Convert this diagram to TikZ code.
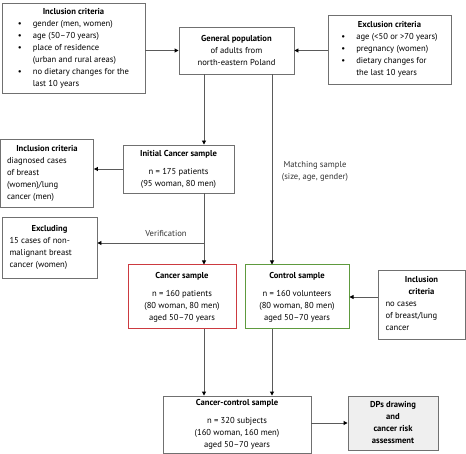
\documentclass[tikz,border=0pt]{standalone}
\usepackage{fontspec}
\setmainfont{PT Sans}
\usetikzlibrary{arrows.meta,positioning}
\definecolor{framegray}{HTML}{707070}
\definecolor{wiregray}{HTML}{5A5A5A}
\definecolor{casered}{HTML}{CC3A40}
\definecolor{ctrlgreen}{HTML}{5E9A3E}
\definecolor{outfill}{HTML}{EFEFEF}

\begin{document}
\begin{tikzpicture}[x=1pt,y=-1pt,
        font=\fontsize{8.6}{12}\selectfont,
        box/.style 2 args={draw=framegray,line width=0.9pt,fill=white,inner sep=0pt,
          align=center,minimum width=#1,minimum height=#2},
        redbox/.style 2 args={box={#1}{#2},draw=casered,line width=1pt},
        greenbox/.style 2 args={box={#1}{#2},draw=ctrlgreen,line width=1pt},
        outbox/.style 2 args={box={#1}{#2},fill=outfill,font=\fontsize{8.6}{12}\selectfont\bfseries},
        lbl/.style={inner sep=1pt,align=center,text=black!80},
        arr/.style={-{Triangle[length=4pt,width=4pt,color=black]},wiregray,line width=0.9pt}]
        \useasboundingbox (0,0) rectangle (466,454);
        % criteria and population
        \node[box={143pt}{90pt}](inc1) at (73.5,48){\begin{tabular}{@{}l@{\hspace{11pt}}l@{}}
          \multicolumn{2}{c}{\bfseries Inclusion criteria}\\
          \textbullet & gender (men, women)\\
          \textbullet & age (50--70 years)\\
          \textbullet & place of residence\\
          & (urban and rural areas)\\
          \textbullet & no dietary changes for the\\
          & last 10 years\end{tabular}};
        \node[box={115pt}{47pt}](gp) at (236.5,50.5){{\bfseries General population}\\of adults from\\north-eastern Poland};
        \node[box={123pt}{69pt}](exc) at (389.5,49.5){\begin{tabular}{@{}l@{\hspace{11pt}}l@{}}
          \multicolumn{2}{c}{\bfseries Exclusion criteria}\\
          \textbullet & age (<50 or >70 years)\\
          \textbullet & pregnancy (women)\\
          \textbullet & dietary changes for\\
          & the last 10 years\end{tabular}};
        % cancer branch
        \node[box={111pt}{48pt}](init) at (178.5,169){{\bfseries Initial Cancer sample}\\[6pt]n = 175 patients\\(95 woman, 80 men)};
        \node[box={93pt}{68pt}](inc2) at (47,173){\begin{tabular}{@{}p{80pt}@{}}
          \multicolumn{1}{@{}c@{}}{\bfseries Inclusion criteria}\\
          diagnosed cases\\ of breast\\ (women)/lung\\ cancer (men)\end{tabular}};
        \node[box={95pt}{61pt}](excl) at (49.5,247.5){\begin{tabular}{@{}p{80pt}@{}}
          \multicolumn{1}{@{}c@{}}{\bfseries Excluding}\\
          15 cases of non-\\ malignant breast\\ cancer (women)\end{tabular}};
        \node[redbox={108pt}{64pt}](cancer) at (182,297){{\bfseries Cancer sample}\\[6pt]n = 160 patients\\(80 woman, 80 men)\\aged 50--70 years};
        % control branch
        \node[greenbox={104pt}{64pt}](control) at (297,297){{\bfseries Control sample}\\[6pt]n = 160 volunteers\\(80 woman, 80 men)\\aged 50--70 years};
        \node[box={87pt}{69pt}](inc3) at (421.5,304.5){\begin{tabular}{@{}p{72pt}@{}}
          \multicolumn{1}{@{}c@{}}{\bfseries Inclusion}\\
          \multicolumn{1}{@{}c@{}}{\bfseries criteria}\\
          no cases\\ of breast/lung\\ cancer\end{tabular}};
        % merged sample
        \node[box={148pt}{57pt}](cc) at (237,424.5){{\bfseries Cancer-control sample}\\[6pt]n = 320 subjects\\(160 woman, 160 men)\\aged 50--70 years};
        \node[outbox={90pt}{54pt}](dps) at (393,423){DPs drawing\\and\\cancer risk\\assessment};
        \coordinate (lx) at (204,243);
        \coordinate (mx) at (272,243);
        \draw[arr](gp.west -| inc1.east)--(gp.west);\draw[arr](gp.east -| exc.west)--(gp.east);
        \draw[arr](gp.south -| lx)--(init.north -| lx);\draw[arr](init.west)--(init.west -| inc2.east);
        \draw[arr](init.south -| lx)--(cancer.north -| lx);\draw[arr](lx)--(lx -| excl.east);
        \draw[arr](gp.south -| mx)--(control.north -| mx);\draw[arr](control.east -| inc3.west)--(control.east);
        \draw[arr](cancer.south -| lx)--(cc.north -| lx);\draw[arr](control.south -| mx)--(cc.north -| mx);
        \draw[arr](dps.west -| cc.east)--(dps.west);
        \node[lbl](ver) at (166,234){Verification};
        \node[lbl](match) at (315,171){Matching sample\\(size, age, gender)};
      \end{tikzpicture}
\end{document}
